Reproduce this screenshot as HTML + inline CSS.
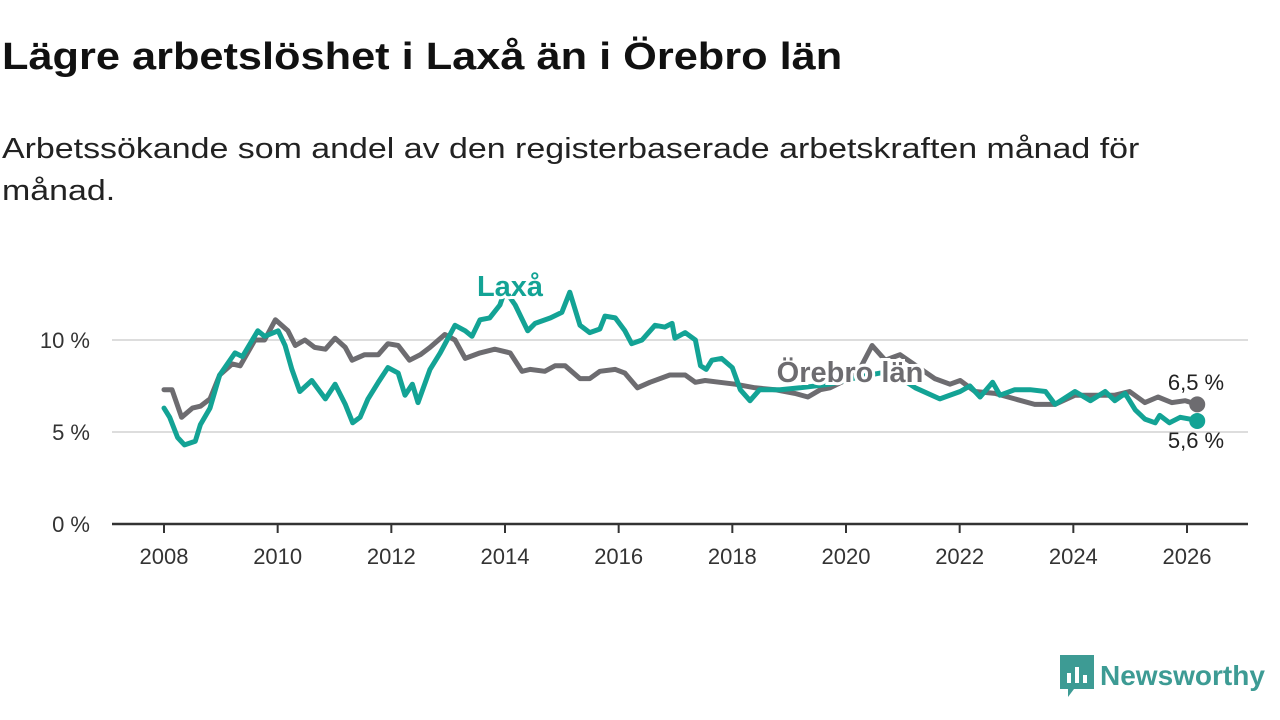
<!DOCTYPE html>
<html><head><meta charset="utf-8"><style>
body{margin:0;width:1280px;height:720px;background:#fff;font-family:"Liberation Sans",sans-serif;overflow:hidden;position:relative}
h1{position:absolute;left:2px;top:36px;margin:0;font-size:38px;font-weight:bold;color:#111;transform-origin:0 0;transform:scaleX(1.14);white-space:nowrap}
.sub{position:absolute;left:2px;top:128px;margin:0;font-size:29px;line-height:42px;color:#222;width:1000px;transform-origin:0 0;transform:scaleX(1.17)}
svg{position:absolute;left:0;top:0}
</style></head><body>
<h1>Lägre arbetslöshet i Laxå än i Örebro län</h1>
<p class="sub">Arbetssökande som andel av den registerbaserade arbetskraften månad för<br>månad.</p>
<svg id="chart" width="1280" height="720"></svg>
<script>
const xTicks=[2008,2010,2012,2014,2016,2018,2020,2022,2024,2026];
const yTicks=[0,5,10];
const yTickLabels=["0 %","5 %","10 %"];
const laxaOffsets=[0,.10,.24,.36,.55,.64,.81,.98,1.25,1.38,1.65,1.77,2.01,2.13,2.25,2.39,2.60,2.84,3.01,3.19,3.32,3.45,3.59,3.77,3.94,4.12,4.24,4.37,4.47,4.68,4.86,5.12,5.30,5.42,5.56,5.73,5.91,6.00,6.18,6.40,6.53,6.80,7.00,7.14,7.32,7.49,7.67,7.76,7.94,8.11,8.23,8.41,8.64,8.81,8.94,8.99,9.17,9.35,9.44,9.54,9.64,9.81,10.00,10.14,10.31,10.48,10.84,11.19,11.72,12.24,12.77,13.22,13.65,14.01,14.18,14.36,14.58,14.71,14.97,15.24,15.51,15.68,16.03,16.30,16.56,16.73,16.91,17.09,17.26,17.44,17.52,17.69,17.88,18.05,18.18];
const laxaVals=[6.3,5.8,4.7,4.3,4.5,5.4,6.3,8.1,9.3,9.1,10.5,10.2,10.5,9.7,8.4,7.2,7.8,6.8,7.6,6.5,5.5,5.8,6.8,7.7,8.5,8.2,7.0,7.6,6.6,8.4,9.3,10.8,10.5,10.2,11.1,11.2,11.9,12.7,11.9,10.5,10.9,11.2,11.5,12.6,10.8,10.4,10.6,11.3,11.2,10.5,9.8,10.0,10.8,10.7,10.9,10.1,10.4,10.0,8.6,8.4,8.9,9.0,8.5,7.3,6.7,7.3,7.3,7.4,7.6,8.0,8.3,7.4,6.8,7.2,7.5,6.9,7.7,7.0,7.3,7.3,7.2,6.5,7.2,6.7,7.2,6.7,7.1,6.2,5.7,5.5,5.9,5.5,5.8,5.7,5.6];
const orebroOffsets=[0,.14,.31,.50,.64,.81,.98,1.20,1.34,1.60,1.77,1.96,2.18,2.31,2.48,2.65,2.84,3.01,3.19,3.31,3.53,3.77,3.94,4.12,4.32,4.51,4.68,4.94,5.12,5.30,5.56,5.82,6.09,6.30,6.44,6.70,6.88,7.06,7.32,7.49,7.67,7.94,8.11,8.33,8.55,8.90,9.17,9.35,9.52,9.78,10.05,10.40,10.75,11.10,11.33,11.55,11.72,11.98,12.24,12.46,12.69,12.95,13.56,13.83,14.01,14.27,14.62,14.97,15.32,15.68,16.03,16.37,16.73,16.99,17.26,17.49,17.73,17.97,18.18];
const orebroVals=[7.3,7.3,5.8,6.3,6.4,6.8,8.1,8.7,8.6,10.0,10.0,11.1,10.5,9.7,10.0,9.6,9.5,10.1,9.6,8.9,9.2,9.2,9.8,9.7,8.9,9.2,9.6,10.3,10.0,9.0,9.3,9.5,9.3,8.3,8.4,8.3,8.6,8.6,7.9,7.9,8.3,8.4,8.2,7.4,7.7,8.1,8.1,7.7,7.8,7.7,7.6,7.4,7.3,7.1,6.9,7.3,7.4,7.8,8.4,9.7,8.9,9.2,7.9,7.6,7.8,7.2,7.1,6.8,6.5,6.5,7.0,7.0,7.0,7.2,6.6,6.9,6.6,6.7,6.5];
const START_YEAR=2008;
const NS="http://www.w3.org/2000/svg";
const svg=document.getElementById('chart');
const X=y=>164+(y-2008)*(1187-164)/18;
const Y=v=>524-v*18.4;
const F='Liberation Sans, sans-serif';
function el(t,a,txt){const e=document.createElementNS(NS,t);for(const k in a)e.setAttribute(k,a[k]);if(txt!==undefined)e.textContent=txt;svg.appendChild(e);return e;}
yTicks.forEach((t,i)=>{
 if(t>0){const g=el('line',{x1:112,x2:1248,y1:Y(t),y2:Y(t),stroke:'#ddd','stroke-width':2});
 
 }
 const l=el('text',{x:90,y:Y(t)+8,'text-anchor':'end','font-size':22,fill:'#333','font-family':F},yTickLabels[i]);
 
 
});
const ax=el('line',{x1:112,x2:1248,y1:524,y2:524,stroke:'#333','stroke-width':2.5});


xTicks.forEach(t=>{
 const tk=el('line',{x1:X(t),x2:X(t),y1:524,y2:533,stroke:'#333','stroke-width':2});
 
 
 const l=el('text',{x:X(t),y:564,'text-anchor':'middle','font-size':22,fill:'#333','font-family':F},t);
 
 
});
function line(offs,vs,c,name){
 const ys=offs.map(o=>START_YEAR+o);
 const d=ys.map((y,i)=>(i?'L':'M')+X(y).toFixed(1)+','+Y(vs[i]).toFixed(1)).join('');
 const p=el('path',{d:d,fill:'none',stroke:c,'stroke-width':5,'stroke-linejoin':'round','stroke-linecap':'round'});
 
 
 const n=ys.length-1;
 const dot=el('circle',{cx:X(ys[n]),cy:Y(vs[n]),r:8,fill:c});
 
 
}
line(orebroOffsets,orebroVals,'#6d6c70','orebro-line');
line(laxaOffsets,laxaVals,'#13a395','laxa-line');
const o=el('text',{x:850,y:382,'text-anchor':'middle','font-size':29,'font-weight':'bold',fill:'#6d6c70',stroke:'#fff','stroke-width':6,'paint-order':'stroke','font-family':F},'Örebro län');


const la=el('text',{x:510,y:296,'text-anchor':'middle','font-size':29,'font-weight':'bold',fill:'#13a395',stroke:'#fff','stroke-width':6,'paint-order':'stroke','font-family':F},'Laxå');


const e1=el('text',{x:1196,y:390,'text-anchor':'middle','font-size':22,fill:'#222','font-family':F},'6,5 %');


const e2=el('text',{x:1196,y:448,'text-anchor':'middle','font-size':22,fill:'#222','font-family':F},'5,6 %');


</script>
<div style="position:absolute;left:1060px;top:655px;display:flex;align-items:center">
<svg width="34" height="42" viewBox="0 0 34 42" style="position:static"><path d="M0 0H34V34H14L8 42V34H0Z" fill="#3d9b94"/><rect x="7" y="18" width="4" height="10" fill="#fff"/><rect x="15" y="12" width="4" height="16" fill="#fff"/><rect x="23" y="20" width="4" height="8" fill="#fff"/></svg>
<span style="font-size:28px;font-weight:bold;color:#3d9b94;margin-left:6px">Newsworthy</span></div>
</body></html>
